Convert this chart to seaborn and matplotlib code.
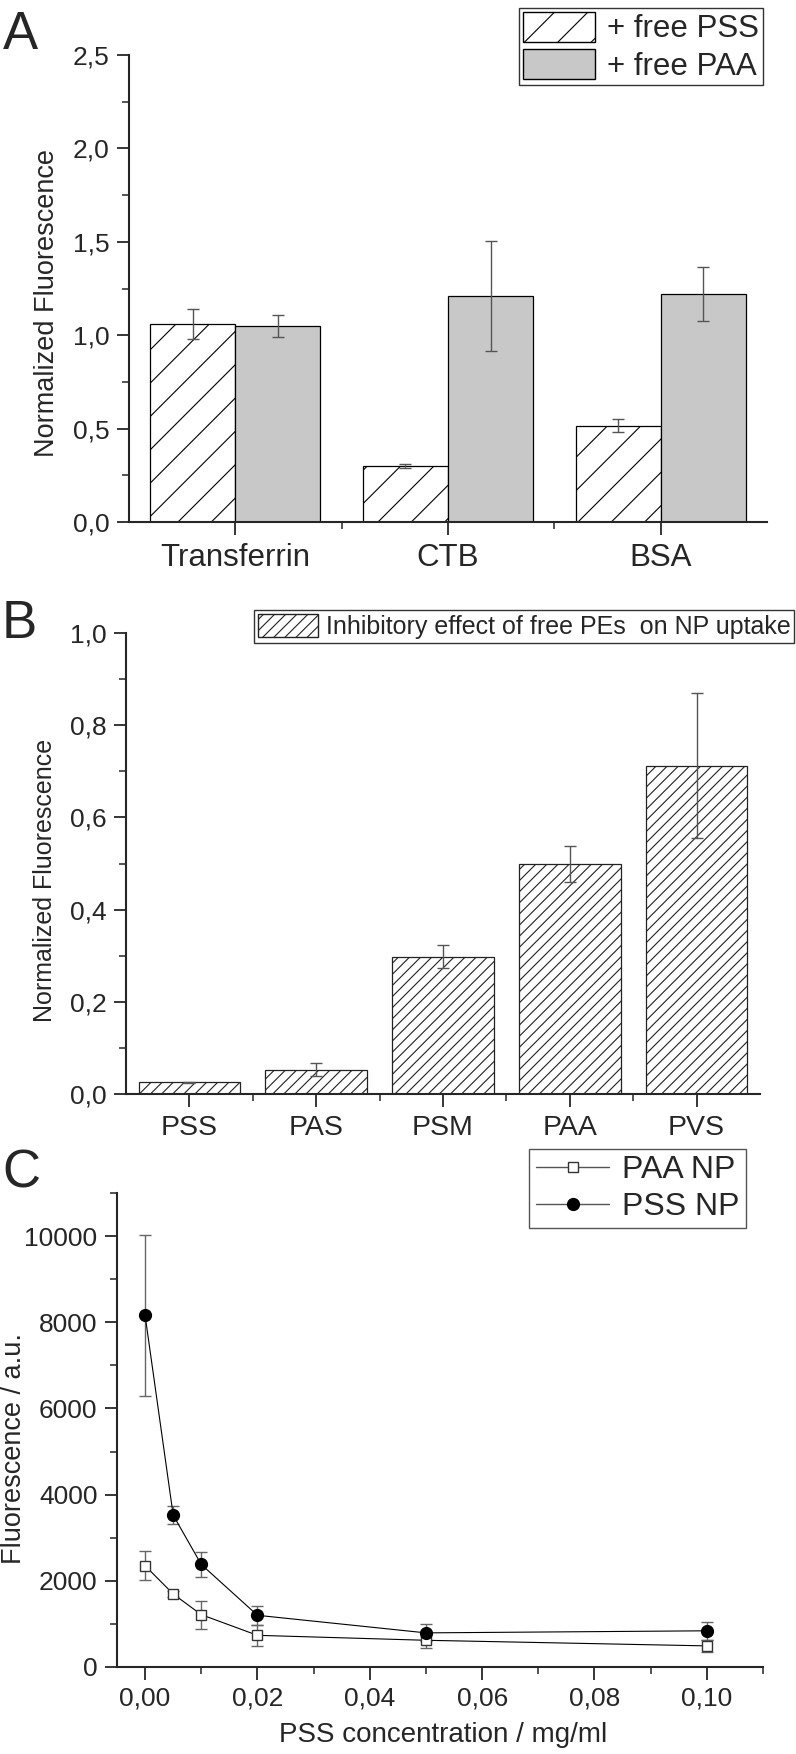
import pandas as pd
import matplotlib
matplotlib.use('Agg')
import matplotlib.pyplot as plt
from matplotlib.patches import Patch
from matplotlib.lines import Line2D
from matplotlib.ticker import FuncFormatter, MultipleLocator, FixedLocator
import seaborn as sns

# Panel A: protein coronas + free polyelectrolytes
proteins = ['Transferrin', 'CTB', 'BSA']
conditions = ['+ free PSS', '+ free PAA']
pss_vals = [1.06, 0.30, 0.515]
pss_err = [0.08, 0.01, 0.035]
paa_vals = [1.05, 1.21, 1.22]
paa_err = [0.06, 0.295, 0.145]

# Panel B: inhibitory effect of free PEs
polymers = ['PSS', 'PAS', 'PSM', 'PAA', 'PVS']
inhib_vals = [0.025, 0.053, 0.298, 0.498, 0.712]
inhib_err = [0.002, 0.015, 0.025, 0.039, 0.157]

# Panel C: fluorescence vs PSS concentration
conc = [0.0, 0.005, 0.01, 0.02, 0.05, 0.10]
paa_np = [2350, 1695, 1215, 735, 620, 490]
paa_np_err = [335, 80, 325, 245, 185, 140]
pss_np = [8160, 3525, 2380, 1200, 792, 840]
pss_np_err = [1870, 200, 295, 215, 195, 210]

sns.set_style('ticks')
plt.rcParams['font.family'] = ['Liberation Sans', 'DejaVu Sans']
plt.rcParams['hatch.linewidth'] = 0.8

W, H = 796, 1754
fig = plt.figure(figsize=(W / 100, H / 100), dpi=100)


def axes_px(left, top, right, bottom):
    return fig.add_axes([left / W, 1 - bottom / H, (right - left) / W, (bottom - top) / H])


def style_axes(ax):
    for side in ['top', 'right']:
        ax.spines[side].set_visible(False)
    for side in ['left', 'bottom']:
        ax.spines[side].set_linewidth(1.5)
    ax.tick_params(which='major', direction='out', length=9, width=1.3, labelsize=19, pad=5)
    ax.tick_params(which='minor', direction='out', length=5, width=1.1)
    ax.set_xlabel('')
    ax.set_ylabel('')


comma1 = FuncFormatter(lambda v, p: f'{v:.1f}'.replace('.', ','))
ecol = '#555555'

# ---------------- A ----------------
axA = axes_px(129, 55, 767, 522)
dfA = pd.DataFrame({
    'protein': proteins * 2,
    'condition': [conditions[0]] * 3 + [conditions[1]] * 3,
    'value': pss_vals + paa_vals,
})
sns.barplot(data=dfA, x='protein', y='value', hue='condition', order=proteins,
            hue_order=conditions, palette=['white', '#c8c8c8'], edgecolor='black',
            linewidth=0.9, errorbar=None, width=0.8, legend=False, ax=axA)
for p in axA.containers[0]:
    p.set_hatch('/')
for cont, errs in zip(axA.containers, [pss_err, paa_err]):
    xs = [p.get_x() + p.get_width() / 2 for p in cont]
    ys = [p.get_height() for p in cont]
    axA.errorbar(xs, ys, yerr=errs, fmt='none', ecolor=ecol, elinewidth=1,
                 capsize=4, capthick=1, zorder=5)
axA.set_xlim(-0.5, 2.5)
axA.set_ylim(0, 2.5)
axA.yaxis.set_major_locator(MultipleLocator(0.5))
axA.yaxis.set_minor_locator(MultipleLocator(0.25))
axA.yaxis.set_major_formatter(comma1)
axA.xaxis.set_minor_locator(FixedLocator([0.5, 1.5]))
style_axes(axA)
axA.tick_params(axis='x', which='major', labelsize=22.5, pad=6)
axA.set_ylabel('Normalized Fluorescence', fontsize=19.5)
axA.yaxis.set_label_coords(-0.108, 0.47)

legA = fig.legend(handles=[Patch(facecolor='white', edgecolor='black', hatch='/', label=conditions[0]),
                           Patch(facecolor='#c8c8c8', edgecolor='black', label=conditions[1])],
                  loc='upper right', bbox_to_anchor=(763 / W, 1 - 8 / H), fontsize=22.5,
                  frameon=True, fancybox=False, edgecolor='#333333', framealpha=1,
                  handlelength=2.3, handleheight=1.1, labelspacing=0.15, borderpad=0.12,
                  handletextpad=0.4, borderaxespad=0)
legA.get_frame().set_linewidth(1)

# ---------------- B ----------------
axB = axes_px(126, 633, 760, 1094)
sns.barplot(x=polymers, y=inhib_vals, color='white', edgecolor='#222222', linewidth=0.9,
            errorbar=None, width=0.8, ax=axB)
for p in axB.containers[0]:
    p.set_hatch('///')
    p.set_facecolor('white')
xs = [p.get_x() + p.get_width() / 2 for p in axB.containers[0]]
axB.errorbar(xs, inhib_vals, yerr=inhib_err, fmt='none', ecolor=ecol, elinewidth=1,
             capsize=4, capthick=1, zorder=5)
axB.set_xlim(-0.5, 4.5)
axB.set_ylim(0, 1.0)
axB.yaxis.set_major_locator(MultipleLocator(0.2))
axB.yaxis.set_minor_locator(MultipleLocator(0.1))
axB.yaxis.set_major_formatter(comma1)
axB.xaxis.set_minor_locator(FixedLocator([0.5, 1.5, 2.5, 3.5]))
style_axes(axB)
axB.tick_params(axis='x', which='major', labelsize=20.5, pad=6)
axB.set_ylabel('Normalized Fluorescence', fontsize=18)
axB.yaxis.set_label_coords(-0.109, 0.464)

legB = fig.legend(handles=[Patch(facecolor='white', edgecolor='#222222', hatch='///',
                                 label='Inhibitory effect of free PEs  on NP uptake')],
                  loc='upper right', bbox_to_anchor=(794 / W, 1 - 610 / H), fontsize=18,
                  frameon=True, fancybox=False, edgecolor='#333333', framealpha=1,
                  handlelength=2.4, handleheight=1.05, borderpad=0.15,
                  handletextpad=0.3, borderaxespad=0)
legB.get_frame().set_linewidth(1)

# ---------------- C ----------------
axC = axes_px(117, 1193, 763, 1667)
axC.errorbar(conc, paa_np, yerr=paa_np_err, fmt='none', ecolor='#666666', elinewidth=1,
             capsize=4, capthick=1, zorder=1)
axC.errorbar(conc, pss_np, yerr=pss_np_err, fmt='none', ecolor='#666666', elinewidth=1,
             capsize=4, capthick=1, zorder=1)
sns.lineplot(x=conc, y=paa_np, color='black', linewidth=0.8, marker='s', markersize=7.5,
             markerfacecolor='white', markeredgecolor='#333333', markeredgewidth=1,
             legend=False, ax=axC, zorder=3)
sns.lineplot(x=conc, y=pss_np, color='black', linewidth=0.8, marker='o', markersize=8.5,
             markerfacecolor='black', markeredgecolor='black', markeredgewidth=1,
             legend=False, ax=axC, zorder=4)
axC.set_xlim(-0.005, 0.11)
axC.set_ylim(0, 11000)
axC.xaxis.set_major_locator(MultipleLocator(0.02))
axC.xaxis.set_minor_locator(MultipleLocator(0.01))
axC.xaxis.set_major_formatter(FuncFormatter(lambda v, p: f'{v:.2f}'.replace('.', ',')))
axC.yaxis.set_major_locator(MultipleLocator(2000))
axC.yaxis.set_minor_locator(MultipleLocator(1000))
style_axes(axC)
axC.set_xlabel('PSS concentration / mg/ml', fontsize=20)
axC.xaxis.set_label_coords(0.505, -0.115)
axC.set_ylabel('Fluorescence / a.u.', fontsize=19.5)
axC.yaxis.set_label_coords(-0.139, 0.462)

handlesC = [Line2D([], [], color='#555555', linewidth=1, marker='s', markersize=7.5,
                   markerfacecolor='white', markeredgecolor='#333333', label='PAA NP'),
            Line2D([], [], color='#555555', linewidth=1, marker='o', markersize=8.5,
                   markerfacecolor='black', markeredgecolor='black', label='PSS NP')]
legC = fig.legend(handles=handlesC, loc='upper right', bbox_to_anchor=(746 / W, 1 - 1149 / H),
                  fontsize=23, frameon=True, fancybox=False, edgecolor='#555555',
                  framealpha=1, handlelength=2.3, labelspacing=0.2, borderpad=0.2,
                  handletextpad=0.4, borderaxespad=0)
legC.get_frame().set_linewidth(1)

# panel letters
fig.text(3 / W, 1 - 49 / H, 'A', fontsize=38, ha='left', va='baseline')
fig.text(2 / W, 1 - 638 / H, 'B', fontsize=38, ha='left', va='baseline')
fig.text(2 / W, 1 - 1187 / H, 'C', fontsize=38, ha='left', va='baseline')

fig.savefig('out.png', dpi=100)
